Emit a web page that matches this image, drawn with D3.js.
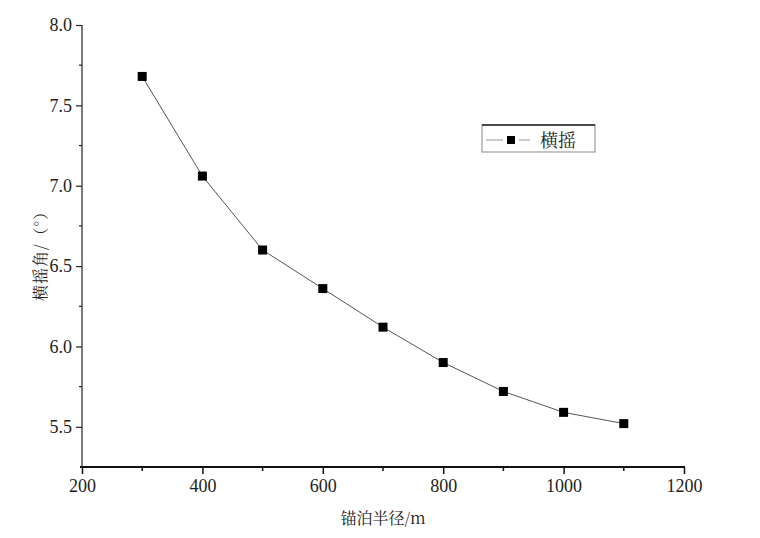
<!DOCTYPE html>
<html><head><meta charset="utf-8">
<script src="https://cdn.jsdelivr.net/npm/d3@7"></script>
<style>body{margin:0;background:#fff}svg{display:block}</style>
</head><body><svg id="c" width="760" height="538"></svg>
<script>
const radius = [300,400,500,600,700,800,900,1000,1100];
const roll = [7.68,7.06,6.60,6.36,6.12,5.90,5.72,5.59,5.52];
const xTicks = [200,400,600,800,1000,1200];
const yTicks = [5.5,6.0,6.5,7.0,7.5,8.0];
const seriesName = "横摇";
const xTitle = "锚泊半径/m";
const yTitle = "横摇角/（°）";

const svg = d3.select("#c");
const NUM = "Liberation Serif";
const CJK = "Noto Serif CJK SC";
const x = d3.scaleLinear().domain([200,1200]).range([82,684]);
const y = d3.scaleLinear().domain([5.25,8.0]).range([467,25]);

const xMinor = d3.range(300,1200,200);
const yMinor = [5.75,6.25,6.75,7.25,7.75];

const gx = svg.append("g").attr("transform","translate(0,467)");
gx.call(d3.axisBottom(x).tickValues(xTicks).tickSize(7).tickPadding(5).tickFormat(d3.format("d")));
gx.attr("font-family",NUM).attr("font-size",18);
gx.select(".domain").attr("stroke","#111").attr("stroke-width",2.2).attr("d","M80,0H685");
gx.selectAll(".tick line").attr("stroke","#111").attr("stroke-width",1.5);
gx.selectAll(".tick text").style("font-family",NUM).style("font-size","18px").attr("fill","#222");
gx.selectAll(".minor").data(xMinor).enter().append("line")
  .attr("x1",d=>x(d)).attr("x2",d=>x(d)).attr("y1",0).attr("y2",4).attr("stroke","#111").attr("stroke-width",1.5);

const gy = svg.append("g").attr("transform","translate(82,0)");
gy.call(d3.axisLeft(y).tickValues(yTicks).tickSize(6).tickPadding(4).tickFormat(d3.format(".1f")));
gy.attr("font-family",NUM).attr("font-size",18);
gy.select(".domain").attr("stroke","#222").attr("stroke-width",1.2).attr("d","M0,25V467");
gy.selectAll(".tick line").attr("stroke","#222").attr("stroke-width",1.2);
gy.selectAll(".tick text").style("font-family",NUM).style("font-size","18px").attr("fill","#222");
gy.selectAll(".minor").data(yMinor).enter().append("line")
  .attr("x1",-3).attr("x2",0).attr("y1",d=>y(d)).attr("y2",d=>y(d)).attr("stroke","#222").attr("stroke-width",1.2);

const line = d3.line().x((d,i)=>x(radius[i])).y(d=>y(d));
svg.append("path").datum(roll).attr("d",line).attr("fill","none").attr("stroke","#555").attr("stroke-width",1);
svg.selectAll(".pt").data(roll).enter().append("rect")
  .attr("x",(d,i)=>x(radius[i])-4.5).attr("y",d=>y(d)-4.5).attr("width",9).attr("height",9).attr("fill","#000");

svg.append("text").attr("x",383).attr("y",524).attr("text-anchor","middle")
  .attr("font-family",CJK).attr("font-size",16).attr("fill","#222").text(xTitle);
svg.append("text").attr("transform","translate(46,252) rotate(-90)").attr("text-anchor","middle")
  .attr("font-family",CJK).attr("font-size",16).attr("letter-spacing",1).attr("fill","#222").text(yTitle);

const lg = svg.append("g");
lg.append("rect").attr("x",482).attr("y",125).attr("width",113).attr("height",27).attr("fill","#fff").attr("stroke","#888").attr("stroke-width",1);
lg.append("line").attr("x1",482).attr("x2",595).attr("y1",125).attr("y2",125).attr("stroke","#222").attr("stroke-width",1.5);
lg.append("line").attr("x1",486).attr("x2",503).attr("y1",140).attr("y2",140).attr("stroke","#999").attr("stroke-width",1);
lg.append("line").attr("x1",519).attr("x2",530).attr("y1",140).attr("y2",140).attr("stroke","#999").attr("stroke-width",1);
lg.append("rect").attr("x",507).attr("y",136).attr("width",8).attr("height",8).attr("fill","#000");
lg.append("text").attr("x",540).attr("y",147).attr("font-family",CJK).attr("font-size",18).attr("fill","#222").text(seriesName);
</script></body></html>
